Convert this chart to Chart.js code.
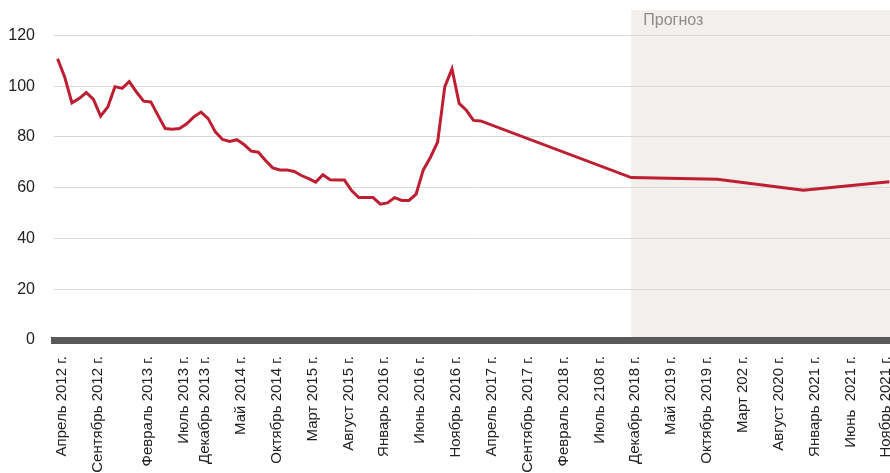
<!DOCTYPE html>
<html>
<head>
<meta charset="utf-8">
<script src="https://cdn.jsdelivr.net/npm/chart.js@4.4.1/dist/chart.umd.min.js"></script>
<style>
  html, body { margin: 0; padding: 0; background: #fff; overflow: hidden; }
  #wrap { position: relative; width: 893px; height: 473px; }
</style>
</head>
<body>
<div id="wrap"><canvas id="chart" width="893" height="473"></canvas></div>
<script>
// monthly axis, April 2012 .. December 2021
const monthCount = 117;

// tick labels as written on the original chart and the month slot they sit at
const tickLabels = [
  "Апрель 2012 г.", "Сентябрь 2012 г.", "Февраль 2013 г.", "Июль 2013 г.",
  "Декабрь 2013 г.", "Май 2014 г.", "Октябрь 2014 г.", "Март 2015 г.",
  "Август 2015 г.", "Январь 2016 г.", "Июнь 2016 г.", "Ноябрь 2016 г.",
  "Апрель 2017 г.", "Сентябрь 2017 г.", "Февраль 2018 г.", "Июль 2108 г.",
  "Декабрь 2018 г.", "Май 2019 г.", "Октябрь 2019 г.", "Март 202 г.",
  "Август 2020 г.", "Январь 2021 г.", "Июнь  2021 г.", "Ноябрь 2021 г."
];
const tickSlots = [0, 5, 12, 17, 20, 25, 30, 35, 40, 45, 50, 55,
  60, 65, 70, 75, 80, 85, 90, 95, 100, 105, 110, 115];

// actual values, April 2012 .. March 2017
const actualValues = [
  110.8, 103.5, 93.4, 95.1, 97.5, 94.8, 88.2, 91.8, 99.8, 99.1,
  101.8, 97.7, 94.1, 93.8, 88.5, 83.3, 83.0, 83.3, 85.2, 87.9,
  89.8, 87.2, 82.0, 79.0, 78.2, 78.9, 77.0, 74.4, 74.0, 70.7,
  67.8, 67.0, 67.0, 66.4, 64.8, 63.6, 62.2, 65.1, 63.1, 63.0,
  63.0, 58.9, 56.1, 56.1, 56.1, 53.5, 54.0, 56.1, 55.0, 55.0,
  57.5, 67.0, 72.0, 78.0, 99.8, 106.8, 93.2, 90.5, 86.5, 86.3
];

// forecast points (December of each year)
const forecastSlots = [80, 92, 104, 116];
const forecastValues = [64.0, 63.3, 59.0, 62.3];
const forecastStart = 80;

const yTicks = [0, 20, 40, 60, 80, 100, 120];

const labels = Array(monthCount).fill("");
tickSlots.forEach((slot, i) => {
  labels[slot] = tickLabels[i];
});

const values = Array(monthCount).fill(null);
actualValues.forEach((v, i) => {
  values[i] = v;
});
forecastSlots.forEach((slot, i) => {
  values[slot] = forecastValues[i];
});

// shaded forecast zone drawn under the grid
const forecastBand = {
  id: "forecastBand",
  beforeDraw(chart) {
    const ctx = chart.ctx;
    const area = chart.chartArea;
    const x = chart.scales.x.getPixelForValue(forecastStart);
    const yBottom = chart.scales.y.getPixelForValue(0);
    ctx.save();
    ctx.fillStyle = "#f2efec";
    ctx.fillRect(x, area.top, area.right - x, yBottom - area.top);
    ctx.fillStyle = "#8c8c8c";
    ctx.font = "16px 'Liberation Sans', Arial, sans-serif";
    ctx.textBaseline = "middle";
    ctx.fillText("Прогноз", x + 12, area.top + 11);
    ctx.restore();
  },
};

const chart = new Chart(document.getElementById("chart"), {
  type: "line",
  data: {
    labels: labels,
    datasets: [
      {
        data: values,
        borderColor: "#be1e32",
        borderWidth: 3,
        pointRadius: 0,
        tension: 0,
        spanGaps: true,
      },
    ],
  },
  plugins: [forecastBand],
  options: {
    responsive: false,
    animation: false,
    layout: { padding: { top: 10, left: 0, right: 0, bottom: 0 } },
    plugins: {
      legend: { display: false },
      tooltip: { enabled: false },
    },
    scales: {
      x: {
        offset: true,
        grid: { display: false, drawTicks: false },
        border: { display: true, color: "#595959", width: 7 },
        ticks: {
          autoSkip: false,
          minRotation: 90,
          maxRotation: 90,
          padding: 16,
          labelOffset: 4,
          color: "#222",
          font: { family: "'Liberation Sans', Arial, sans-serif", size: 15 },
        },
        afterFit(scale) {
          scale.height = 133;
          scale.paddingLeft = 0;
          scale.paddingRight = 0;
        },
      },
      y: {
        min: 0,
        max: 130,
        grid: { color: "#d9d9d9", lineWidth: 1, drawTicks: false },
        border: { display: false },
        ticks: {
          padding: 19,
          color: "#222",
          font: { family: "'Liberation Sans', Arial, sans-serif", size: 16 },
        },
        afterBuildTicks(scale) {
          scale.ticks = yTicks.map((v) => ({ value: v }));
        },
        afterFit(scale) {
          scale.width = 54;
          scale.paddingTop = 0;
          scale.paddingBottom = 0;
        },
      },
    },
  },
});
</script>
</body>
</html>
